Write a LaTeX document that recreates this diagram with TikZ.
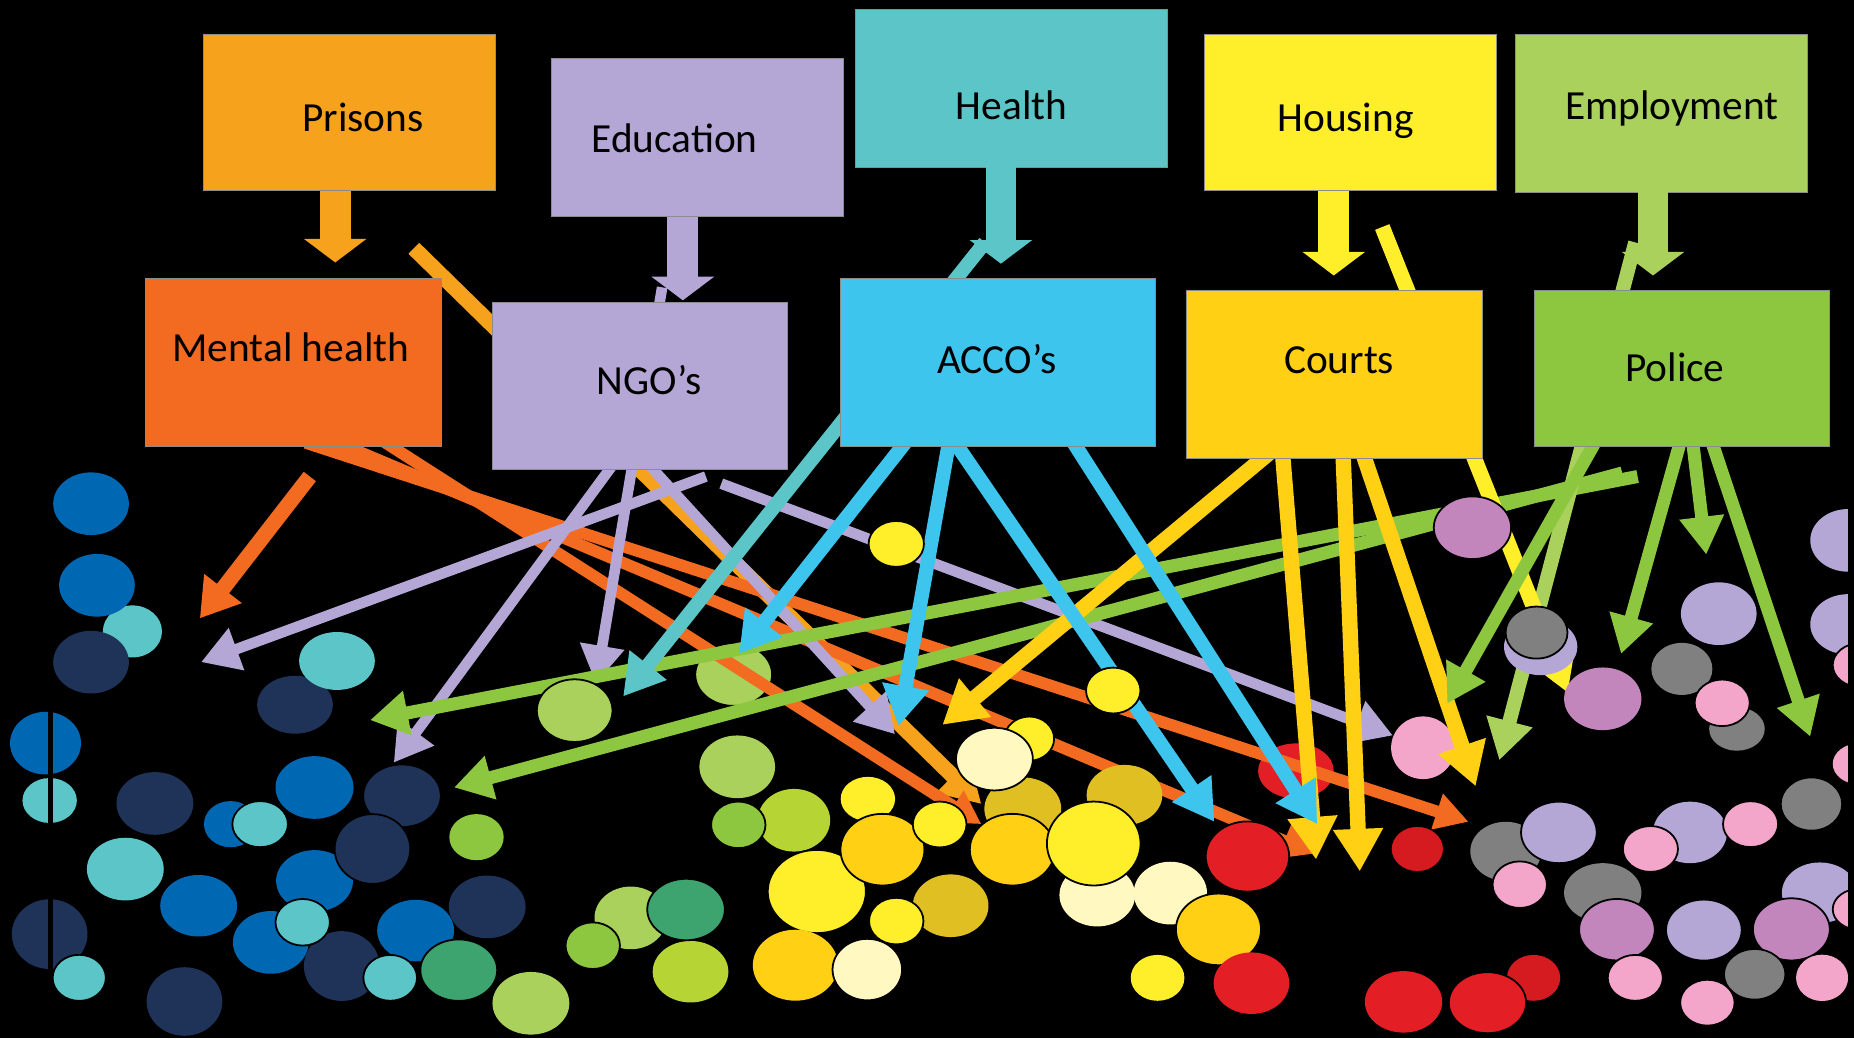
\documentclass[tikz,border=0pt]{standalone}
\usepackage{fontspec}
\setmainfont{Carlito}
\usetikzlibrary{arrows.meta,calc}
\pgfdeclarelayer{bg}
\pgfdeclarelayer{back}
\pgfsetlayers{bg,back,main}

% palette
\definecolor{cPrison}{HTML}{F7A21D}
\definecolor{cMental}{HTML}{F26B21}
\definecolor{cLav}{HTML}{B4A7D6}
\definecolor{cTeal}{HTML}{5BC5C8}
\definecolor{cCyan}{HTML}{3DC5EE}
\definecolor{cYellow}{HTML}{FFEE2A}
\definecolor{cGold}{HTML}{FFD014}
\definecolor{cLgreen}{HTML}{A9D15B}
\definecolor{cGreen}{HTML}{8DC63F}
\definecolor{cNavy}{HTML}{1F3359}
\definecolor{cBlue}{HTML}{0067B2}
\definecolor{cDgreen}{HTML}{3DA36F}
\definecolor{cLime}{HTML}{B6D433}
\definecolor{cDyellow}{HTML}{E0BF23}
\definecolor{cCream}{HTML}{FFF8C0}
\definecolor{cRed}{HTML}{E31E24}
\definecolor{cRedd}{HTML}{D51A20}
\definecolor{cPink}{HTML}{F4A6CA}
\definecolor{cMauve}{HTML}{C286BD}
\definecolor{cGray}{HTML}{808080}

% plain and outlined ellipses (people)
\newcommand{\blob}[5]{\fill[#5] (#1,#2) ellipse [x radius=#3pt, y radius=#4pt];}
\newcommand{\blobo}[5]{\filldraw[fill=#5, draw=black, line width=1.5pt] (#1,#2) ellipse [x radius=#3pt, y radius=#4pt];}

\tikzset{
  box/.style={rectangle, inner sep=0pt, anchor=north west, draw=black!45, line width=0.6pt},
  lbl/.style={font=\fontsize{35}{42}\selectfont, text=black, inner sep=0pt, anchor=base},
  blk/.style={line width=26pt, -{Triangle[length=20pt,width=52pt]}},
  xt/.style={shorten <=-10pt},
  orA/.style={draw=cMental, line width=10pt, -{Triangle[length=28pt,width=30pt]}},
  prA/.style={draw=cPrison, line width=13pt, -{Triangle[length=34pt,width=38pt]}},
  lavA/.style={draw=cLav, line width=9pt, -{Triangle[length=32pt,width=36pt]}},
  tealA/.style={draw=cTeal, line width=12pt, -{Triangle[length=34pt,width=38pt]}},
  cyA/.style={draw=cCyan, line width=12pt, -{Triangle[length=34pt,width=38pt]}},
  goA/.style={draw=cGold, line width=13pt, -{Triangle[length=36pt,width=40pt]}},
  yeA/.style={draw=cYellow, line width=13pt, -{Triangle[length=36pt,width=40pt]}},
  lgA/.style={draw=cLgreen, line width=12pt, -{Triangle[length=34pt,width=38pt]}},
  grA/.style={draw=cGreen, line width=11pt, -{Triangle[length=32pt,width=36pt]}},
}

\begin{document}
\begin{tikzpicture}[x=1pt,y=-1pt]
\useasboundingbox (0,0) rectangle (1568,878);
\begin{pgfonlayer}{bg}
  \fill[black] (0,0) rectangle (1568,878);
\end{pgfonlayer}

% ---------- agency boxes ----------
\node[box, fill=cPrison, minimum width=247pt, minimum height=132pt] (pr) at (172,29) {};
\node[box, fill=cLav,    minimum width=247pt, minimum height=134pt] (ed) at (466,49) {};
\node[box, fill=cTeal,   minimum width=264pt, minimum height=133pt] (he) at (723,8) {};
\node[box, fill=cYellow, minimum width=247pt, minimum height=132pt] (ho) at (1018,29) {};
\node[box, fill=cLgreen, minimum width=247pt, minimum height=133pt] (em) at (1281,29) {};
\node[box, fill=cMental, minimum width=250pt, minimum height=142pt] (mh) at (123,235) {};
\node[box, fill=cLav,    minimum width=250pt, minimum height=142pt] (ngo) at (416,255) {};
\node[box, fill=cCyan,   minimum width=267pt, minimum height=142pt] (acco) at (710,235) {};
\node[box, fill=cGold,   minimum width=250pt, minimum height=142pt] (ct) at (1003,245) {};
\node[box, fill=cGreen,  minimum width=250pt, minimum height=132pt] (po) at (1297,245) {};

% ---------- arrow end points ----------
\coordinate (sO1) at (262,403);  \coordinate (eO1) at (169,523);
\coordinate (sO2) at ($(mh.south west)+(145,0)$); \coordinate (eO2) at (1242,695);
\coordinate (sO3) at ($(mh.south west)+(170,0)$); \coordinate (eO3) at (1112,722);
\coordinate (sO4) at ($(mh.south west)+(208,0)$); \coordinate (eO4) at (830,697);
\coordinate (sPr) at (350,210);  \coordinate (ePr) at (830,680);
\coordinate (sV1) at (597,403);  \coordinate (eV1) at (170,560);
\coordinate (sV2) at ($(ngo.south west)+(99,0)$);  \coordinate (eV2) at (333,645);
\coordinate (sV3) at (560,243);  \coordinate (eV3) at (504,578);
\coordinate (sV4) at ($(ngo.south west)+(137,0)$); \coordinate (eV4) at (757,621);
\coordinate (sV5) at (610,409);  \coordinate (eV5) at (1178,622);
\coordinate (sT1) at (833,205);  \coordinate (eT1) at (527,589);
\coordinate (sC1) at ($(acco.south west)+(53,0)$);  \coordinate (eC1) at (625,553);
\coordinate (sC2) at ($(acco.south west)+(92,0)$);  \coordinate (eC2) at (760,614);
\coordinate (sC3) at ($(acco.south west)+(100,0)$); \coordinate (eC3) at (1027,695);
\coordinate (sC4) at ($(acco.south west)+(200,0)$); \coordinate (eC4) at (1114,697);
\coordinate (sY1) at ($(ct.south west)+(65,0)$);  \coordinate (eY1) at (797,613);
\coordinate (sY2) at ($(ct.south west)+(82,0)$);  \coordinate (eY2) at (1113,727);
\coordinate (sY3) at ($(ct.south west)+(133,0)$); \coordinate (eY3) at (1150,737);
\coordinate (sY4) at ($(ct.south west)+(151,0)$); \coordinate (eY4) at (1248,665);
\coordinate (sH1) at (1169,192); \coordinate (eH1) at (1326,586);
\coordinate (sE1) at (1383,205); \coordinate (eE1) at (1268,643);
\coordinate (sG1) at (1385,403); \coordinate (eG1) at (313,609);
\coordinate (sG2) at (1372,400); \coordinate (eG2) at (384,666);
\coordinate (sG3) at ($(po.south west)+(50,0)$);  \coordinate (eG3) at (1224,595);
\coordinate (sG4) at ($(po.south west)+(123,0)$); \coordinate (eG4) at (1371,553);
\coordinate (sG5) at ($(po.south west)+(135,0)$); \coordinate (eG5) at (1443,469);
\coordinate (sG6) at ($(po.south west)+(152,0)$); \coordinate (eG6) at (1531,623);

\begin{pgfonlayer}{back}
  % people lying under the arrows
  \blob{1096}{652}{32}{23.3}{cRed}
  \blob{1203.5}{632.4}{27}{26.5}{cPink}
  \blobo{620.5}{570.5}{32.5}{26.5}{cLgreen}
  % connectors
  \draw[prA] (sPr) -- (ePr);
  \draw[orA, line width=13pt, -{Triangle[length=32pt,width=38pt]}] (sO1) -- (eO1);
  \draw[orA, xt] (sO4) -- (eO4);
  \draw[orA, xt] (sO3) -- (eO3);
  \draw[orA, xt] (sO2) -- (eO2);
  \draw[lavA] (sV1) -- (eV1);
  \draw[lavA, xt] (sV2) -- (eV2);
  \draw[lavA] (sV3) -- (eV3);
  \draw[lavA, xt] (sV4) -- (eV4);
  \draw[lavA] (sV5) -- (eV5);
  \draw[grA] (sG1) -- (eG1);
  \draw[grA] (sG2) -- (eG2);
  \draw[tealA] (sT1) -- (eT1);
  \draw[goA, xt] (sY1) -- (eY1);
  \draw[goA, xt] (sY2) -- (eY2);
  \draw[goA, xt] (sY3) -- (eY3);
  \draw[goA, xt] (sY4) -- (eY4);
  \draw[cyA, xt] (sC1) -- (eC1);
  \draw[cyA, xt] (sC2) -- (eC2);
  \draw[cyA, xt] (sC3) -- (eC3);
  \draw[cyA, xt] (sC4) -- (eC4);
  \draw[lgA] (sE1) -- (eE1);
  \draw[yeA] (sH1) -- (eH1);
  \draw[grA, xt] (sG3) -- (eG3);
  \draw[grA, xt] (sG4) -- (eG4);
  \draw[grA, xt] (sG5) -- (eG5);
  \draw[grA, xt] (sG6) -- (eG6);
\end{pgfonlayer}

% ---------- block arrows between the two rows ----------
\coordinate (prTip) at (283.5,222);
\coordinate (edTip) at (577.5,254);
\coordinate (heTip) at (846.5,223);
\coordinate (hoTip) at (1128,233);
\coordinate (emTip) at (1398,233);
\draw[blk, draw=cPrison] (prTip |- pr.south) -- (prTip);
\draw[blk, draw=cLav]    (edTip |- ed.south) -- (edTip);
\draw[blk, draw=cTeal]   (heTip |- he.south) -- (heTip);
\draw[blk, draw=cYellow] (hoTip |- ho.south) -- (hoTip);
\draw[blk, draw=cLgreen] (emTip |- em.south) -- (emTip);

% ---------- labels ----------
\node[lbl] (prT)   at (307,111)   {Prisons};
\node[lbl] (edT)   at (570.5,129) {Education};
\node[lbl] (heT)   at (855.5,101) {Health};
\node[lbl] (hoT)   at (1138,111)  {Housing};
\node[lbl] (emT)   at (1414,101)  {Employment};
\node[lbl] (mhT)   at (246,306)   {Mental health};
\node[lbl] (ngoT)  at (549,334)   {NGO’s};
\node[lbl] (accoT) at (843,316)   {ACCO’s};
\node[lbl] (ctT)   at (1132.5,316){Courts};
\node[lbl] (poT)   at (1416.5,323){Police};

% ---------- people: blue cluster ----------
\blob{77}{426}{32}{26.5}{cBlue}
\blob{112}{534}{25}{22}{cTeal}
\blob{82}{495}{32}{26.5}{cBlue}
\blob{77}{560}{32}{26.5}{cNavy}
\blob{249.5}{596}{32}{24.5}{cNavy}
\blob{285}{559}{32}{24.5}{cTeal}
\blob{38.5}{628.5}{30}{26.5}{cBlue}
\blob{42}{677}{23}{19}{cTeal}
\blob{131}{679.5}{32.5}{26.5}{cNavy}
\blob{195}{697}{22.5}{19.5}{cBlue}
\blobo{220}{697}{23.5}{19.5}{cTeal}
\blob{266}{666}{33}{26.5}{cBlue}
\blob{340}{673}{32}{25.7}{cNavy}
\blob{106}{735}{32.5}{26.5}{cTeal}
\blob{168}{766}{32.5}{26}{cBlue}
\blob{266}{745}{32.5}{26}{cBlue}
\blob{229}{797}{32}{26.5}{cBlue}
\blob{289}{817}{32}{29.5}{cNavy}
\blob{351.5}{787}{32.5}{26}{cBlue}
\blob{412}{767}{32.5}{26.5}{cNavy}
\blobo{315}{718}{32}{29.5}{cNavy}
\blobo{256}{780}{23}{19.7}{cTeal}
\blobo{330}{827}{22.7}{19.4}{cTeal}
\blobo{388}{820.5}{32.5}{26}{cDgreen}
\blob{449}{848.5}{32.5}{26.5}{cLgreen}
\blob{403}{708}{23}{19.5}{cGreen}
\blob{42}{790}{32}{29.5}{cNavy}
\blobo{67}{827}{22.5}{19.5}{cTeal}
\blob{156}{847}{32}{29}{cNavy}

% ---------- people: green cluster ----------
\blobo{486}{601}{32}{26.5}{cLgreen}
\blob{623.5}{648.5}{32}{26.5}{cLgreen}
\blob{671.5}{693.7}{30.6}{26.5}{cLime}
\blobo{624.4}{697.6}{23}{19.7}{cGreen}
\blob{533.4}{776.3}{30.6}{26.5}{cLgreen}
\blob{584}{821.8}{32}{26}{cLime}
\blobo{580.2}{769.2}{32.8}{26}{cDgreen}
\blobo{501.3}{799.8}{23}{19.7}{cGreen}

% ---------- people: yellow cluster ----------
\blobo{758}{460}{23.4}{19.4}{cYellow}
\blobo{941.5}{584}{23}{19.4}{cYellow}
\blobo{870.5}{624.7}{21}{18.7}{cYellow}
\blob{865}{684}{32.5}{26.5}{cDyellow}
\blobo{841}{642}{32.5}{26.5}{cCream}
\blob{951}{672.4}{32}{25.5}{cDyellow}
\blob{734}{675.7}{23}{18.7}{cYellow}
\blobo{690.8}{754}{41.5}{35.2}{cYellow}
\blobo{746.3}{718.6}{35.5}{30.3}{cGold}
\blobo{794.7}{697.3}{22.7}{19.4}{cYellow}
\blobo{856.2}{718.6}{36}{30.3}{cGold}
\blob{928}{757}{32}{26.5}{cCream}
\blob{989.8}{755.3}{31}{26.5}{cCream}
\blobo{925}{713.4}{39.6}{35.5}{cYellow}
\blob{804}{766}{32}{26.5}{cDyellow}
\blobo{758}{779}{23}{19.7}{cYellow}
\blob{672.7}{816.3}{36}{30}{cGold}
\blobo{733.5}{820}{29.4}{26}{cCream}
\blobo{1030.5}{786}{36}{30.3}{cGold}
\blob{979}{827}{22.7}{19.4}{cYellow}

% ---------- people: red cluster ----------
\blobo{1055}{724.4}{35.3}{29.7}{cRed}
\blobo{1198.7}{718}{22.5}{19.5}{cRedd}
\blob{1058.4}{831.5}{32}{26}{cRed}
\blob{1187}{847.3}{32.7}{26}{cRed}
\blob{1297}{827}{22.5}{19.4}{cRedd}
\blobo{1258}{848}{32.7}{25.8}{cRed}

% ---------- people: purple cluster ----------
\blobo{1245.3}{446.3}{32.7}{26.5}{cMauve}
\blob{1563}{457}{32}{26.5}{cLav}
\blob{1453.6}{519}{32}{26.5}{cLav}
\blob{1563}{528}{32}{25.5}{cLav}
\blobo{1573}{562.5}{23}{18.5}{cPink}
\blob{1303}{547}{31}{24}{cLav}
\blobo{1299.5}{535}{26.2}{22}{cGray}
\blob{1355.5}{591}{32.7}{26.5}{cMauve}
\blob{1422.4}{565.7}{25.8}{22}{cGray}
\blob{1469}{616.5}{23.5}{18.4}{cGray}
\blobo{1456.5}{594.4}{23.3}{19.7}{cPink}
\blob{1573}{646}{23}{17.5}{cPink}
\blob{1273.5}{720}{30}{25}{cGray}
\blobo{1318.4}{704}{32}{26}{cLav}
\blobo{1285.3}{748.2}{23}{19.7}{cPink}
\blob{1355.5}{755}{32.7}{25}{cGray}
\blobo{1367.5}{786.3}{32}{26}{cMauve}
\blobo{1383}{827}{23.3}{19.4}{cPink}
\blob{1429.3}{704}{31.3}{26}{cLav}
\blobo{1395.8}{718}{23.3}{19.4}{cPink}
\blobo{1480.5}{697}{23.3}{19.4}{cPink}
\blobo{1532}{680}{26}{22.5}{cGray}
\blobo{1441}{786.6}{32}{25.8}{cLav}
\blob{1539}{755}{32}{25.6}{cLav}
\blobo{1573}{769}{23}{17.5}{cPink}
\blobo{1515}{786}{32.5}{26.3}{cMauve}
\blobo{1484}{824}{26}{21.4}{cGray}
\blobo{1444}{848}{23}{19.4}{cPink}
\blob{1541}{827}{22}{19.6}{cPink}

% ---------- trimming edges ----------
\fill[black] (41,590) rectangle (45,860);
\fill[black] (1563,380) rectangle (1568,878);
\end{tikzpicture}
\end{document}
